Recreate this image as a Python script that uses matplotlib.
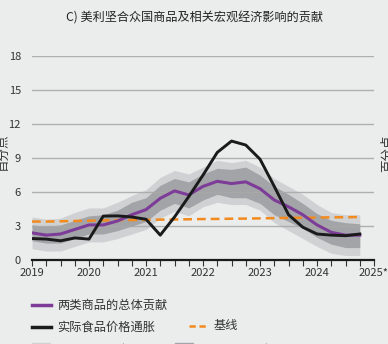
import matplotlib
matplotlib.use("Agg")
from matplotlib import pyplot as plt
from matplotlib.lines import Line2D
from matplotlib.patches import Rectangle

plt.rcParams['font.family'] = ['Liberation Sans Narrow', 'Noto Sans CJK SC', 'DejaVu Sans']

# quarterly, 2019Q1 .. 2024Q4
quarters = [2019 + 0.25 * i for i in range(24)]

total_contrib = [2.4, 2.2, 2.3, 2.7, 3.1, 3.1, 3.45, 4.0, 4.45, 5.45, 6.1, 5.75,
                 6.5, 6.95, 6.75, 6.9, 6.3, 5.3, 4.7, 4.0, 3.1, 2.45, 2.2, 2.2]
food_inflation = [1.9, 1.85, 1.7, 1.95, 1.85, 3.88, 3.9, 3.8, 3.6, 2.2, 3.8, 5.6,
                  7.5, 9.5, 10.5, 10.15, 8.9, 6.5, 4.0, 2.9, 2.3, 2.2, 2.15, 2.3]
baseline = [3.4, 3.4, 3.42, 3.45, 3.47, 3.5, 3.52, 3.53, 3.55, 3.57, 3.58, 3.6,
            3.62, 3.63, 3.65, 3.66, 3.68, 3.7, 3.72, 3.73, 3.75, 3.77, 3.78, 3.8]
inner_hi = [3.1, 3.0, 3.1, 3.5, 3.9, 4.0, 4.4, 5.1, 5.5, 6.6, 7.2, 6.9,
            7.6, 8.1, 8.0, 8.2, 7.5, 6.5, 5.8, 5.0, 4.1, 3.5, 3.3, 3.2]
inner_lo = [1.7, 1.5, 1.5, 1.9, 2.3, 2.3, 2.6, 3.0, 3.4, 4.4, 5.0, 4.6,
            5.3, 5.8, 5.5, 5.5, 5.0, 4.0, 3.4, 2.8, 2.0, 1.4, 1.1, 1.1]
outer_hi = [3.8, 3.6, 3.7, 4.2, 4.6, 4.6, 5.1, 5.7, 6.2, 7.3, 7.9, 7.6,
            8.2, 8.8, 8.6, 8.8, 8.2, 7.2, 6.5, 5.8, 4.9, 4.2, 4.0, 4.0]
outer_lo = [1.0, 0.8, 0.8, 1.2, 1.6, 1.6, 1.9, 2.3, 2.7, 3.7, 4.3, 3.9,
            4.7, 5.1, 4.9, 4.9, 4.4, 3.3, 2.6, 1.9, 1.2, 0.6, 0.4, 0.4]

year_ticks = [2019, 2020, 2021, 2022, 2023, 2024, 2025]
year_labels = ["2019", "2020", "2021", "2022", "2023", "2024", "2025*"]
y_ticks = [0, 3, 6, 9, 12, 15, 18]

bg = "#ebecec"
purple = "#7d3c98"
orange = "#f28a1e"
light_grey = "#d0d1d3"
dark_grey = "#a3a4a7"

fig = plt.figure(figsize=(3.88, 3.44), dpi=100, facecolor=bg)
ax = fig.add_axes([0.0825, 0.244, 0.8815, 0.593])
ax.set_facecolor(bg)

ax.fill_between(quarters, outer_lo, outer_hi, color=light_grey, lw=0, zorder=1)
ax.fill_between(quarters, inner_lo, inner_hi, color=dark_grey, lw=0, zorder=2)
for y in y_ticks[1:]:
    ax.axhline(y, color="#a9a9a9", lw=1.0, alpha=0.9, zorder=2.5)
ax.plot(quarters, baseline, color=orange, lw=1.8, dashes=(3.5, 2), zorder=3)
ax.plot(quarters, total_contrib, color=purple, lw=2.2, zorder=4)
ax.plot(quarters, food_inflation, color="#1a1a1a", lw=2.1, zorder=5)

ax.set_xlim(2019, 2025)
ax.set_ylim(0, 18)
ax.set_yticks(y_ticks)
ax.set_yticklabels([str(v) for v in y_ticks], fontsize=8, color="#333333")
ax.tick_params(axis="y", length=0, pad=8)
ax.set_xticks(year_ticks)
ax.set_xticklabels(year_labels, fontsize=8, color="#333333")
ax.set_xticks(quarters + [2025], minor=True)
ax.tick_params(axis="x", which="both", direction="out", length=4, width=0.8, color="#333333", pad=2)
for side in ["left", "right", "top"]:
    ax.spines[side].set_visible(False)
ax.spines["bottom"].set_linewidth(1.6)
ax.spines["bottom"].set_color("#1a1a1a")

fig.text(0.5, 0.948, "C) 美利坚合众国商品及相关宏观经济影响的贡献", ha="center", va="center",
         fontsize=8.7, color="#222222")
fig.text(0.008, 0.555, "百分点", rotation=90, ha="center", va="center", fontsize=9, color="#333333")
fig.text(0.998, 0.555, "百分点", rotation=90, ha="center", va="center", fontsize=9, color="#333333")

# legend
W, H = 388.0, 344.0
def fx(px):
    return px / W
def fy(py):
    return 1 - py / H

fig.add_artist(Line2D([fx(32), fx(51)], [fy(305), fy(305)], color=purple, lw=2.5))
fig.text(fx(57), fy(305), "两类商品的总体贡献", va="center", fontsize=8.8, color="#333333")
fig.add_artist(Line2D([fx(32), fx(51)], [fy(327), fy(327)], color="#1a1a1a", lw=2.5))
fig.text(fx(57), fy(327), "实际食品价格通胀", va="center", fontsize=8.8, color="#333333")
fig.add_artist(Line2D([fx(189), fx(208)], [fy(326), fy(326)], color=orange, lw=1.8, dashes=(2.5, 1.5)))
fig.text(fx(214), fy(326), "基线", va="center", fontsize=8.8, color="#333333")
fig.add_artist(Rectangle((fx(32), fy(355)), fx(18), 12 / H, color=light_grey, transform=fig.transFigure))
fig.text(fx(57), fy(350), "90% 置信区间", va="center", fontsize=8.8, color="#333333")
fig.add_artist(Rectangle((fx(175), fy(355)), fx(18), 12 / H, color=dark_grey, transform=fig.transFigure))
fig.text(fx(200), fy(350), "68% 置信区间", va="center", fontsize=8.8, color="#333333")

fig.savefig("out.png", dpi=100, facecolor=bg)
